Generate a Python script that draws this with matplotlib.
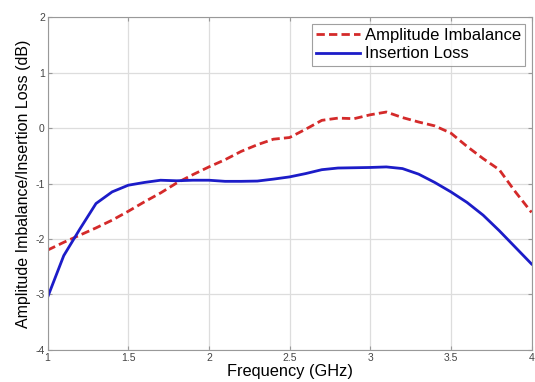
import numpy as np
import matplotlib
matplotlib.use("Agg")
import matplotlib.pyplot as plt

plt.rcParams['font.family'] = ['Liberation Sans', 'DejaVu Sans']
plt.rcParams['axes.unicode_minus'] = False

# values
freq = [1.0, 1.1, 1.2, 1.3, 1.4, 1.5, 1.6, 1.7, 1.8, 1.9, 2.0,
        2.1, 2.2, 2.3, 2.4, 2.5, 2.6, 2.7, 2.8, 2.9, 3.0,
        3.1, 3.2, 3.3, 3.4, 3.5, 3.6, 3.7, 3.8, 3.9, 4.0]
amp_imbalance = [-2.2, -2.06, -1.93, -1.8, -1.66, -1.5, -1.33, -1.17, -0.99, -0.84, -0.7,
                 -0.57, -0.42, -0.3, -0.2, -0.17, -0.02, 0.14, 0.18, 0.17, 0.24,
                 0.29, 0.19, 0.11, 0.04, -0.09, -0.33, -0.55, -0.75, -1.15, -1.52]
insertion_loss = [-3.05, -2.3, -1.82, -1.36, -1.15, -1.03, -0.98, -0.94, -0.95, -0.94, -0.94,
                  -0.96, -0.96, -0.955, -0.92, -0.88, -0.82, -0.75, -0.72, -0.715, -0.71,
                  -0.70, -0.73, -0.83, -0.98, -1.15, -1.34, -1.57, -1.85, -2.15, -2.45]

xticks = [1, 1.5, 2, 2.5, 3, 3.5, 4]
xticklabels = ['1', '1.5', '2', '2.5', '3', '3.5', '4']
yticks = [-4, -3, -2, -1, 0, 1, 2]

fig = plt.figure(figsize=(5.35, 3.82), dpi=100)
ax = fig.add_axes([0.089, 0.084, 0.9045, 0.871])

ax.plot(freq, amp_imbalance, color='#d42a2a', linestyle='--', linewidth=2,
        dashes=(3, 1.5), label='Amplitude Imbalance')
ax.plot(freq, insertion_loss, color='#1c1cc8', linestyle='-', linewidth=2,
        label='Insertion Loss')

ax.set_xlim(1, 4)
ax.set_ylim(-4, 2)
ax.set_xticks(xticks)
ax.set_xticklabels(xticklabels)
ax.set_yticks(yticks)
ax.grid(True, color='#dddddd', linewidth=0.9)
ax.set_axisbelow(True)
ax.tick_params(direction='in', top=True, right=True, labelsize=7.5,
               labelcolor='#444444', color='#999999', length=3, pad=2)
for s in ax.spines.values():
    s.set_color('#999999')

ax.set_xlabel('Frequency (GHz)', fontsize=11.8, labelpad=1)
ax.set_ylabel('Amplitude Imbalance/Insertion Loss (dB)', fontsize=11.5, labelpad=3)

leg = ax.legend(loc='upper right', fontsize=12, frameon=True, fancybox=False,
                borderpad=0.25, labelspacing=0.2, handlelength=2.6,
                handletextpad=0.3, borderaxespad=0.4)
leg.get_frame().set_edgecolor('#888888')
leg.get_frame().set_linewidth(0.8)

fig.savefig('out.png', dpi=100)
